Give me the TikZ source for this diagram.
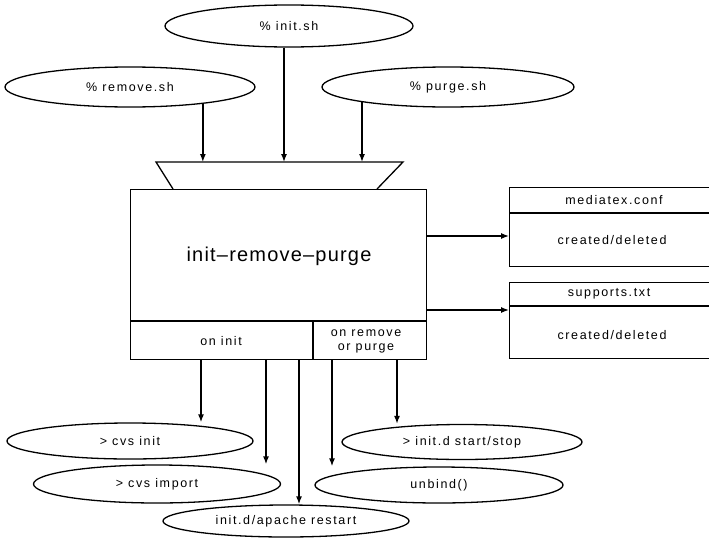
\documentclass[tikz,border=0pt]{standalone}
\usepackage{fontspec}
\newfontfamily\lbl{Liberation Sans}[LetterSpace=13]
\newfontfamily\ttl{Liberation Sans}[LetterSpace=6]
\usetikzlibrary{shapes.geometric,arrows.meta}

\tikzset{
  wire/.style={line width=1.3pt},
  arr/.style={line width=1.3pt,-{Latex[length=8pt,width=6pt]}},
  cmd/.style={ellipse,draw,line width=1.3pt,inner sep=0pt,
    font=\lbl\fontsize{12.5}{14}\selectfont},
  txt/.style={inner sep=0pt,font=\lbl\fontsize{12.5}{14}\selectfont},
  panel/.style={draw,line width=1.3pt,anchor=north west,inner sep=0pt},
}

\begin{document}
\begin{tikzpicture}[x=1pt,y=-1pt]
\useasboundingbox (0,0) rectangle (709,538);

% shell scripts on top
\node[cmd,minimum width=248pt,minimum height=42pt] (initsh)   at (289,26) {\% init.sh};
\node[cmd,minimum width=250pt,minimum height=40pt] (removesh) at (130,87) {\% remove.sh};
\node[cmd,minimum width=252pt,minimum height=40pt] (purgesh)  at (448,87) {\% purge.sh};

% input hopper above the main block
\draw[wire] (173,189) -- (156,162) -- (403,162) -- (377,189);
\coordinate (inA) at (200,162);
\coordinate (inB) at (284,162);
\coordinate (inC) at (363,162);

% main block
\node[panel,minimum width=296pt,minimum height=170pt] (main) at (130,189) {};
\node[inner sep=0pt,font=\ttl\fontsize{20}{24}\selectfont] (title) at (279,256) {init–remove–purge};
\draw[wire] (130,321) -- (426,321);
\draw[wire] (313,321) -- (313,359);
\node[txt] (oninit) at (221,341) {on init};
\node[txt,align=center] (onrm) at (366,341) {on remove\\or purge};

% configuration files
\node[panel,minimum width=210pt,minimum height=79pt] (mconf) at (509,187) {};
\draw[wire] (509,213) -- (719,213);
\node[txt] (mconfname) at (614,200) {mediatex.conf};
\node[txt] (mconfact)  at (612,240) {created/deleted};

\node[panel,minimum width=210pt,minimum height=76pt] (supp) at (509,282) {};
\draw[wire] (509,306) -- (719,306);
\node[txt] (suppname) at (609,294) {supports.txt};
\node[txt] (suppact)  at (612,335) {created/deleted};

% resulting actions
\node[cmd,minimum width=246pt,minimum height=36pt] (cvsinit)   at (130,441) {> cvs init};
\node[cmd,minimum width=247pt,minimum height=38pt] (cvsimport) at (157,484) {> cvs import};
\node[cmd,minimum width=246pt,minimum height=32pt] (apache)    at (286,521) {init.d/apache restart};
\node[cmd,minimum width=240pt,minimum height=35pt] (startstop) at (462,442) {> init.d start/stop};
\node[cmd,minimum width=248pt,minimum height=36pt] (unbind)    at (439,485) {unbind()};

% script arrows into the hopper
\draw[arr] (removesh.-13.3) -- (removesh.-13.3 |- inA);
\draw[arr] (initsh.south -| inB) -- (inB);
\draw[arr] (purgesh.-170.1) -- (purgesh.-170.1 |- inC);

% arrows to configuration files
\coordinate (r1) at (426,236);
\coordinate (r2) at (426,310);
\draw[arr] (r1) -- (r1 -| mconf.west);
\draw[arr] (r2) -- (r2 -| supp.west);

% arrows to actions
\coordinate (b1) at (201,359);
\coordinate (b2) at (266,359);
\coordinate (b3) at (299,359);
\coordinate (b4) at (332,359);
\coordinate (b5) at (397,359);
\draw[arr] (b1) -- (b1 |- cvsinit.north);
\draw[arr] (b2) -- (b2 |- cvsimport.north);
\draw[arr] (b3) -- (b3 |- apache.north);
\draw[arr] (b4) -- (b4 |- unbind.north);
\draw[arr] (b5) -- (b5 |- startstop.north);
\end{tikzpicture}
\end{document}
